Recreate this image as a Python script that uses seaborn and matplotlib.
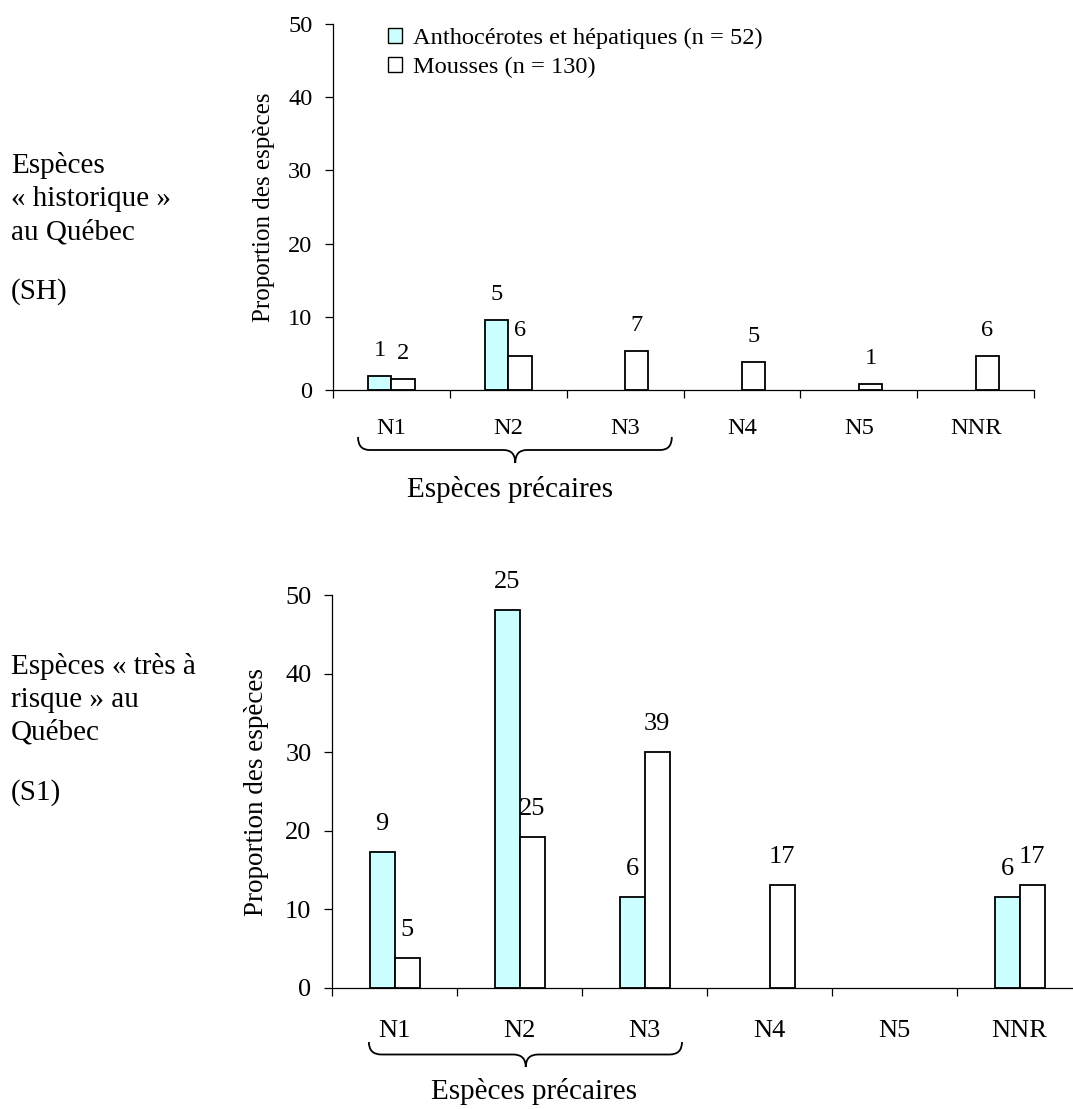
import matplotlib
matplotlib.use("Agg")
import matplotlib.pyplot as plt
import matplotlib.patches as mpatches
from matplotlib.path import Path
from matplotlib import transforms
import pandas as pd
import seaborn as sns

# Data
categories = ["N1", "N2", "N3", "N4", "N5", "NNR"]
groups = ["Anthocérotes et hépatiques", "Mousses"]
group_n = [52, 130]

# Species counts per category (numbers shown above the bars)
sh_hepatiques = [1, 5, 0, 0, 0, 0]
sh_mousses = [2, 6, 7, 5, 1, 6]
s1_hepatiques = [9, 25, 6, 0, 0, 6]
s1_mousses = [5, 25, 39, 17, 0, 17]

yticks = [0, 10, 20, 30, 40, 50]
colours = ["#CCFFFF", "#FFFFFF"]

W, H = 1073, 1109


def make_frame(hep_counts, mou_counts):
    rows = []
    for group, n, counts in zip(groups, group_n, [hep_counts, mou_counts]):
        for cat, c in zip(categories, counts):
            rows.append({"categorie": cat, "groupe": group, "nombre": c,
                         "proportion": 100.0 * c / n})
    return pd.DataFrame(rows)


def draw_panel(ax, df, fs, tick_pad, label_x, label_fs, label_gap):
    sns.barplot(data=df, x="categorie", y="proportion", hue="groupe",
                order=categories, hue_order=groups, palette=colours,
                saturation=1, width=0.4, edgecolor="black", linewidth=1.3,
                legend=False, ax=ax)

    # count labels above the bars, empty bars hidden
    for container, group in zip(ax.containers, groups):
        counts = df[df["groupe"] == group].set_index("categorie").loc[categories, "nombre"]
        for bar, c in zip(container, counts):
            if c == 0:
                bar.set_visible(False)
                continue
            ax.annotate(str(c), (bar.get_x() + bar.get_width() / 2, bar.get_height()),
                        xytext=(0, label_gap), textcoords="offset pixels",
                        ha="center", va="baseline", fontsize=fs)

    ax.set_xlim(-0.5, 5.5)
    ax.set_ylim(0, 50)
    ax.set_yticks(yticks)
    ax.set_xticks([i - 0.5 for i in range(len(categories) + 1)])
    ax.set_xticklabels([])
    ax.set_xticks(range(len(categories)), minor=True)
    ax.set_xticklabels(categories, minor=True, fontsize=fs)
    ax.tick_params(axis="x", which="minor", bottom=True, length=0, pad=tick_pad)
    ax.tick_params(axis="x", which="major", bottom=True, length=5.8, width=0.9,
                   direction="out", color="black")
    ax.tick_params(axis="y", left=True, length=5.8, width=0.9, pad=9, labelsize=fs,
                   color="black")
    for side in ["top", "right"]:
        ax.spines[side].set_visible(False)
    for side in ["left", "bottom"]:
        ax.spines[side].set_linewidth(0.9)
        ax.spines[side].set_color("black")
    ax.set_xlabel("")
    ax.set_ylabel("Proportion des espèces", fontsize=label_fs)
    ax.yaxis.set_label_coords(label_x, 0.5)


def draw_brace(fig, ax, x0, x1, xm, y0_px, h_px, r=0.1):
    trans = transforms.blended_transform_factory(ax.transData, fig.transFigure)
    y0 = 1 - y0_px / H
    y1 = 1 - (y0_px + h_px) / H
    y2 = 1 - (y0_px + 2 * h_px) / H
    verts = [(x0, y0), (x0, y1), (x0 + r, y1), (xm - r, y1), (xm, y1), (xm, y2),
             (xm, y1), (xm + r, y1), (x1 - r, y1), (x1, y1), (x1, y0)]
    codes = [Path.MOVETO, Path.CURVE3, Path.CURVE3, Path.LINETO, Path.CURVE3, Path.CURVE3,
             Path.CURVE3, Path.CURVE3, Path.LINETO, Path.CURVE3, Path.CURVE3]
    patch = mpatches.PathPatch(Path(verts, codes), facecolor="none", edgecolor="black",
                               linewidth=1.3, transform=trans, clip_on=False)
    fig.add_artist(patch)


sns.set_style("white")
plt.rcParams["font.family"] = ["Liberation Serif", "DejaVu Serif"]
plt.rcParams["text.color"] = "black"
plt.rcParams["axes.labelcolor"] = "black"
plt.rcParams["xtick.color"] = "black"
plt.rcParams["ytick.color"] = "black"

fig = plt.figure(figsize=(W / 100, H / 100), dpi=100)
ax_top = fig.add_axes([333 / W, 1 - 390 / H, 701 / W, 366 / H])
ax_bot = fig.add_axes([332 / W, 1 - 988 / H, 750 / W, 393 / H])

draw_panel(ax_top, make_frame(sh_hepatiques, sh_mousses), 17.6, 20, -0.083, 18, 20)
draw_panel(ax_bot, make_frame(s1_hepatiques, s1_mousses), 19, 23, -0.084, 19.5, 22)

# Legend
handles = [mpatches.Patch(facecolor=c, edgecolor="black", linewidth=1) for c in colours]
labels = [f"{g} (n = {n})" for g, n in zip(groups, group_n)]
ax_top.legend(handles, labels, loc="upper left", bbox_to_anchor=(388 / W, 1 - 28 / H),
              bbox_transform=fig.transFigure, frameon=False, fontsize=17.6,
              handlelength=0.57, handleheight=0.57, handletextpad=0.45,
              labelspacing=0.3, borderpad=0, borderaxespad=0)

# Braces for "Espèces précaires"
draw_brace(fig, ax_top, -0.286, 2.40, 1.06, 437, 13)
fig.text(510 / W, 1 - 497 / H, "Espèces précaires", fontsize=21, ha="center", va="baseline")
draw_brace(fig, ax_bot, -0.205, 2.30, 1.05, 1042, 12.5)
fig.text(534 / W, 1 - 1099 / H, "Espèces précaires", fontsize=21, ha="center", va="baseline")

# Side titles
fig.text(11 / W, 1 - 152 / H, "Espèces\n« historique »\nau Québec", fontsize=21,
         ha="left", va="top", linespacing=1.35)
fig.text(11 / W, 1 - 292 / H, "(SH)", fontsize=21, ha="left", va="center")
fig.text(11 / W, 1 - 653 / H, "Espèces « très à\nrisque » au\nQuébec", fontsize=21,
         ha="left", va="top", linespacing=1.35)
fig.text(11 / W, 1 - 793 / H, "(S1)", fontsize=21, ha="left", va="center")

fig.savefig("out.png", dpi=100)
